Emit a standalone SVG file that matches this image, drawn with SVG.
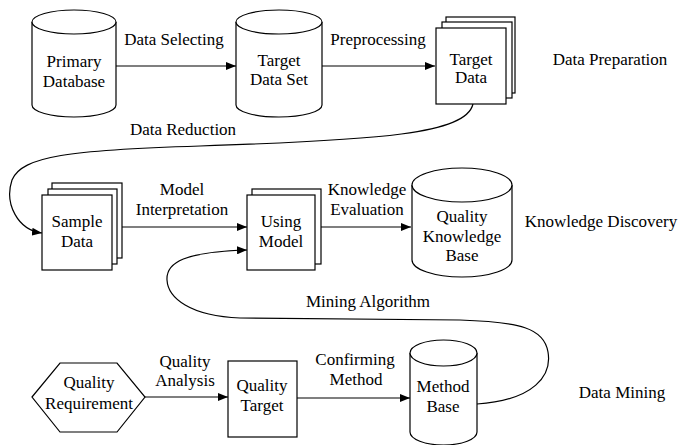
<svg xmlns="http://www.w3.org/2000/svg" width="678" height="445" viewBox="0 0 678 445">
<style>
text{font-family:"Liberation Serif","Tinos","Times New Roman","DejaVu Serif","Noto Serif",serif;font-size:17px;fill:#000;text-anchor:middle}
.s{fill:#fff;stroke:#000;stroke-width:1.2}
.c{fill:none;stroke:#000;stroke-width:1.2}
</style>
<defs>
<marker id="ah" viewBox="0 0 10 8" refX="10" refY="4" markerWidth="10" markerHeight="8" markerUnits="userSpaceOnUse" orient="auto">
<path d="M0,0 L10,4 L0,8 Z" fill="#000"/>
</marker>
</defs>
<rect width="678" height="445" fill="#fff"/>

<g id="connectors">
<path class="c" d="M116,66 L236,66" marker-end="url(#ah)"/>
<path class="c" d="M322,66 L435,66" marker-end="url(#ah)"/>
<path class="c" d="M473,104 C466,134 380,140 200,146 C70,150 22,156 12,180 C4,204 18,230 42,233" marker-end="url(#ah)"/>
<path class="c" d="M112,227 L247,227" marker-end="url(#ah)"/>
<path class="c" d="M315,227 L411,227" marker-end="url(#ah)"/>
<path class="c" d="M477,404 C535,400 552,375 548,352 C544,328 520,322 460,320 L240,318 C190,316 168,298 167,280 C166,262 185,252 247,250" marker-end="url(#ah)"/>
<path class="c" d="M145,397 L228,397" marker-end="url(#ah)"/>
<path class="c" d="M297,398 L410,398" marker-end="url(#ah)"/>
<text x="174" y="45">Data Selecting</text>
<text x="378" y="45">Preprocessing</text>
<text x="183" y="135">Data Reduction</text>
<text x="182" y="195">Model</text>
<text x="182" y="215">Interpretation</text>
<text x="367" y="195">Knowledge</text>
<text x="367" y="215">Evaluation</text>
<text x="368" y="307">Mining Algorithm</text>
<text x="185" y="367">Quality</text>
<text x="185" y="386">Analysis</text>
<text x="355" y="365">Confirming</text>
<text x="356" y="385">Method</text>
</g>

<g id="primary-database">
<path class="s" d="M32,22 L32,105 A42,12 0 0 0 116,105 L116,22"/>
<ellipse class="s" cx="74" cy="22" rx="42" ry="12"/>
<text x="74" y="67">Primary</text>
<text x="74" y="87">Database</text>
</g>

<g id="target-data-set">
<path class="s" d="M236,22 L236,105 A43,12 0 0 0 322,105 L322,22"/>
<ellipse class="s" cx="279" cy="22" rx="43" ry="12"/>
<text x="279" y="66">Target</text>
<text x="279" y="85">Data Set</text>
</g>

<g id="target-data">
<rect class="s" x="446" y="17" width="69" height="76"/>
<rect class="s" x="442" y="22" width="70" height="76"/>
<rect class="s" x="436" y="28" width="70" height="76"/>
<text x="471" y="65">Target</text>
<text x="471" y="83">Data</text>
</g>

<g id="data-preparation">
<text x="610" y="65">Data Preparation</text>
</g>

<g id="sample-data">
<rect class="s" x="52" y="183" width="70" height="75"/>
<rect class="s" x="48" y="189" width="69" height="75"/>
<rect class="s" x="42" y="195" width="70" height="75"/>
<text x="77" y="227">Sample</text>
<text x="77" y="247">Data</text>
</g>

<g id="using-model">
<rect class="s" x="252" y="189" width="69" height="75"/>
<rect class="s" x="247" y="195" width="68" height="75"/>
<text x="281" y="227">Using</text>
<text x="281" y="247">Model</text>
</g>

<g id="quality-knowledge-base">
<path class="s" d="M412,185 L412,260 A50,17 0 0 0 512,260 L512,185"/>
<ellipse class="s" cx="462" cy="185" rx="50" ry="17"/>
<text x="462" y="222">Quality</text>
<text x="462" y="242">Knowledge</text>
<text x="462" y="261">Base</text>
</g>

<g id="knowledge-discovery">
<text x="601" y="227">Knowledge Discovery</text>
</g>

<g id="quality-requirement">
<polygon class="s" points="32,397 60,363 117,363 145,397 117,432 60,432"/>
<text x="89" y="388">Quality</text>
<text x="89" y="409">Requirement</text>
</g>

<g id="quality-target">
<rect class="s" x="228" y="361" width="69" height="76"/>
<text x="262" y="391">Quality</text>
<text x="262" y="411">Target</text>
</g>

<g id="method-base">
<path class="s" d="M410,353 L410,432 A33.5,13 0 0 0 477,432 L477,353"/>
<ellipse class="s" cx="443.5" cy="353" rx="33.5" ry="13"/>
<text x="443" y="392">Method</text>
<text x="443" y="412">Base</text>
</g>

<g id="data-mining">
<text x="622" y="398">Data Mining</text>
</g>
</svg>
